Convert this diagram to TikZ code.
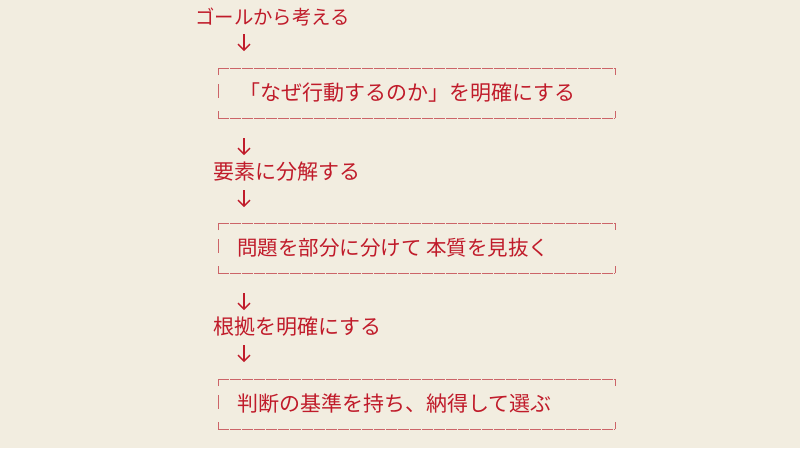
\documentclass[tikz,border=0pt]{standalone}
\usepackage{fontspec}
\newfontfamily\jp{Noto Sans CJK JP}
\usetikzlibrary{arrows.meta}
\definecolor{paper}{HTML}{F2EDE0}
\definecolor{ink}{HTML}{C01B2A}
\definecolor{rule}{HTML}{CC6468}
\tikzset{
  step label/.style={anchor=west,inner sep=0pt,text=ink,font=\jp\fontsize{21}{21}\selectfont},
  box label/.style={anchor=west,inner sep=0pt,text=ink,font=\jp\fontsize{21}{21}\selectfont},
  boxline/.style={draw=rule,line width=1pt},
  boxrun/.style={boxline,dash pattern=on 11.2pt off 0.8pt},
  down/.style={draw=ink,line width=1.3pt,-{Straight Barb[length=6pt,width=12pt]}}
}
\begin{document}
\begin{tikzpicture}[x=1pt,y=-1pt]
\useasboundingbox[fill=paper] (0,0) rectangle (800,448);

\node[step label,font=\jp\fontsize{19.4}{19.4}\selectfont] (goal) at (195,17) {ゴールから考える};
\node[box label] (why) at (239,93) {「なぜ行動するのか」を明確にする};
\node[step label] (split) at (213,172) {要素に分解する};
\node[box label,font=\jp\fontsize{20.5}{20.5}\selectfont] (core) at (237,248) {問題を部分に分けて 本質を見抜く};
\node[step label] (basis) at (213,327) {根拠を明確にする};
\node[box label] (choose) at (237,404) {判断の基準を持ち、納得して選ぶ};

% bracket frames round the box labels
\foreach \y in {68,223,379} {
  \draw[boxrun] (218,\y) -- (615,\y);
  \draw[boxrun] (218,\y+50) -- (615,\y+50);
  \draw[boxline] (218,\y+7) -- (218,\y) (615,\y) -- (615,\y+7);
  \draw[boxline] (218,\y+43) -- (218,\y+50) (615,\y+50) -- (615,\y+43);
  \draw[boxline] (218,\y+16) -- (218,\y+30);
}

% arrows
\coordinate (a1) at (244,34);  \coordinate (b1) at (244,51);
\coordinate (a2) at (244,138); \coordinate (b2) at (244,155);
\coordinate (a3) at (244,190); \coordinate (b3) at (244,207);
\coordinate (a4) at (244,293); \coordinate (b4) at (244,310);
\coordinate (a5) at (244,345); \coordinate (b5) at (244,362);
\foreach \i in {1,...,5}
  \draw[down] (a\i) -- (b\i);
\end{tikzpicture}
\end{document}
